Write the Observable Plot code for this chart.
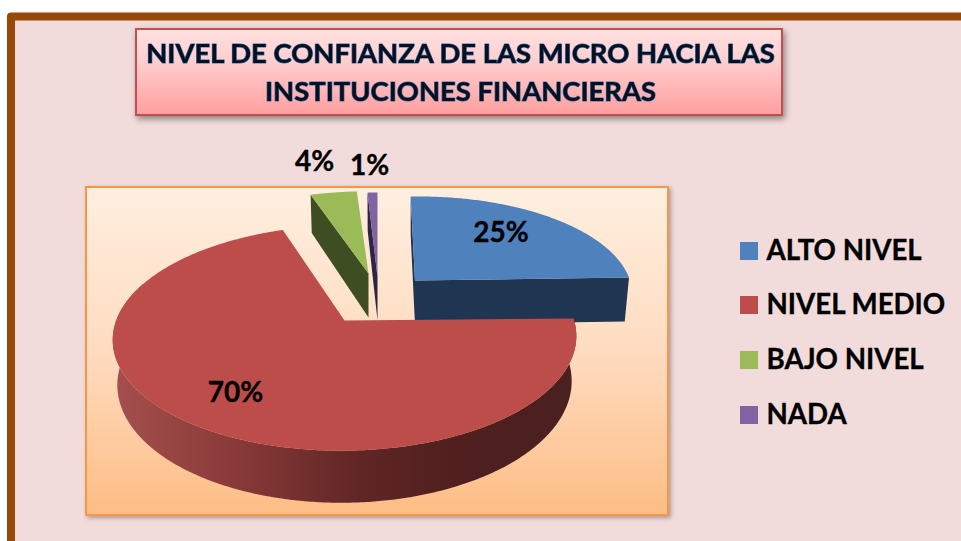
<!DOCTYPE html>
<html>
<head>
<meta charset="utf-8">
<script src="https://cdn.jsdelivr.net/npm/d3@7"></script>
<script src="https://cdn.jsdelivr.net/npm/@observablehq/plot@0.6"></script>
<style>
html,body{margin:0;padding:0;background:#fff;overflow:hidden}
.shadow{filter:drop-shadow(2px 3px 3px rgba(0,0,0,.42))}
.soft{filter:drop-shadow(2px 2px 2px rgba(0,0,0,.3))}
.ttl{filter:blur(.25px)}
</style>
</head>
<body>
<div id="chart"></div>
<script>
// Chart content
const titleLines = ["NIVEL DE CONFIANZA DE LAS MICRO HACIA LAS", "INSTITUCIONES FINANCIERAS"];
const categories = ["ALTO NIVEL", "NIVEL MEDIO", "BAJO NIVEL", "NADA"];
const values = [25, 70, 4, 1];
const topColors = ["#4f81bd", "#bd4d4a", "#9bbb59", "#8064a2"];
const sideColors = ["#1f3552", "#4a1f1e", "#3f4d22", "#2e2545"];

// Layout of the exploded perspective pie
const W = 961, H = 541;
const apexX = [414.5, 344, 368, 377];
const apexY = [280, 320, 273, 276];
const radX = [214, 229, 215, 184];
const radY = [97, 110, 95, 97];
const lean = [5, 0, 0, 0];
const tilt = [3, 2, 0, 0];
const persp = 0.155, depth = 44, baseScale = 0.98;
const labelX = [500.5, 235, 314, 369];
const labelY = [233, 393, 162, 166];
const legendY = [251, 305, 360, 415];

const arcs = d3.pie().sort(null).value(d => d)(values);

function pt(i, theta, r, z) {
  const u = r * Math.sin(theta), v = r * Math.cos(theta), w = 1 + persp * v;
  const s = z ? baseScale : 1;
  return {
    px: apexX[i] + s * radX[i] * u / w - lean[i] * v / w,
    py: apexY[i] - radY[i] * v / w - tilt[i] * u + z * depth / w
  };
}
function rim(i, a0, a1, z) {
  const n = Math.max(2, Math.ceil(Math.abs(a1 - a0) / 0.01));
  return d3.range(n + 1).map(k => pt(i, a0 + (a1 - a0) * k / n, 1, z));
}
const surface = i => [pt(i, 0, 0, 0), ...rim(i, arcs[i].startAngle, arcs[i].endAngle, 0)];
const innerFace = (i, a) => [pt(i, a, 1, 0), pt(i, 0, 0, 0), pt(i, 0, 0, 1), pt(i, a, 1, 1)];
const poly = (pts, fill) => Plot.line(pts, {x: "px", y: "py", fill, stroke: "none", curve: "linear"});

const wallEnd = 1.62 * Math.PI;
const redWall = [...rim(1, arcs[1].startAngle, wallEnd, 0), ...rim(1, wallEnd, arcs[1].startAngle, 1)];

const chartPanel = [{x1: 86, x2: 668, y1: 187, y2: 515}];
const titlePanel = [{x1: 136, x2: 782, y1: 29, y2: 115}];
const frame = [{x1: 7, x2: W + 30, y1: 12.5, y2: H + 30}];
const inner = [{x1: 15, x2: W + 30, y1: 20.5, y2: H + 30}];

const rectOf = (d, o) => Plot.rect(d, {x1: "x1", x2: "x2", y1: "y1", y2: "y2", ...o});
const font = {fontFamily: "Lato", fontWeight: 700};
const heavy = {stroke: "#000", strokeWidth: 0.35};

const plot = Plot.plot({
  width: W, height: H, margin: 0,
  x: {domain: [0, W], range: [0, W], axis: null},
  y: {domain: [0, H], range: [0, H], axis: null},
  style: {background: "#ffffff"},
  marks: [
    rectOf(frame, {fill: "#984807", rx: 4}),
    rectOf(inner, {fill: "#f2dcdb"}),
    rectOf(titlePanel, {fill: "url(#titleFill)", stroke: "#c0504d", strokeWidth: 2, className: "shadow"}),
    Plot.text(titleLines, {
      x: () => 460, y: (d, i) => [54, 92][i], text: d => d,
      fontSize: 27.4, ...font, fill: "#06101e", stroke: "#3f6fa8", strokeWidth: 1.2, paintOrder: "stroke",
      className: "ttl"
    }),
    rectOf(chartPanel, {fill: "url(#plotFill)", stroke: "#f79646", strokeWidth: 2, className: "soft"}),

    poly(innerFace(2, arcs[2].startAngle), sideColors[2]),
    poly(surface(2), topColors[2]),
    poly(innerFace(3, arcs[3].startAngle), sideColors[3]),
    poly(surface(3), topColors[3]),
    poly(innerFace(0, arcs[0].startAngle), sideColors[0]),
    poly(innerFace(0, arcs[0].endAngle), sideColors[0]),
    poly(surface(0), topColors[0]),
    poly(redWall, "url(#wallFill)"),
    poly(surface(1), topColors[1]),

    Plot.text(values, {
      x: (d, i) => labelX[i], y: (d, i) => labelY[i], text: d => d + "%",
      fontSize: 28, ...font, fill: "#000", ...heavy
    }),
    Plot.rect(categories, {
      x1: () => 740, x2: () => 758,
      y1: (d, i) => legendY[i] - 9, y2: (d, i) => legendY[i] + 9,
      fill: (d, i) => topColors[i]
    }),
    Plot.text(categories, {
      x: () => 766, y: (d, i) => legendY[i], text: d => d, textAnchor: "start",
      fontSize: 27.7, ...font, fill: "#000", ...heavy
    })
  ]
});

plot.insertAdjacentHTML("afterbegin", `<defs>
  <linearGradient id="titleFill" x1="0" y1="0" x2="0" y2="1">
    <stop offset="0" stop-color="#ffe0e0"/><stop offset="0.35" stop-color="#ffd0d0"/><stop offset="1" stop-color="#ff9e9e"/>
  </linearGradient>
  <linearGradient id="plotFill" x1="0" y1="0" x2="0" y2="1">
    <stop offset="0" stop-color="#ffefe0"/><stop offset="0.5" stop-color="#ffdcc0"/><stop offset="1" stop-color="#fdbd85"/>
  </linearGradient>
  <linearGradient id="wallFill" gradientUnits="userSpaceOnUse" x1="115" y1="0" x2="575" y2="0">
    <stop offset="0" stop-color="#a44f4d"/><stop offset="0.25" stop-color="#8a3b39"/>
    <stop offset="0.53" stop-color="#602625"/><stop offset="0.75" stop-color="#4f1f1e"/><stop offset="1" stop-color="#4a2020"/>
  </linearGradient>
</defs>`);
document.getElementById("chart").appendChild(plot);
</script>
</body>
</html>
